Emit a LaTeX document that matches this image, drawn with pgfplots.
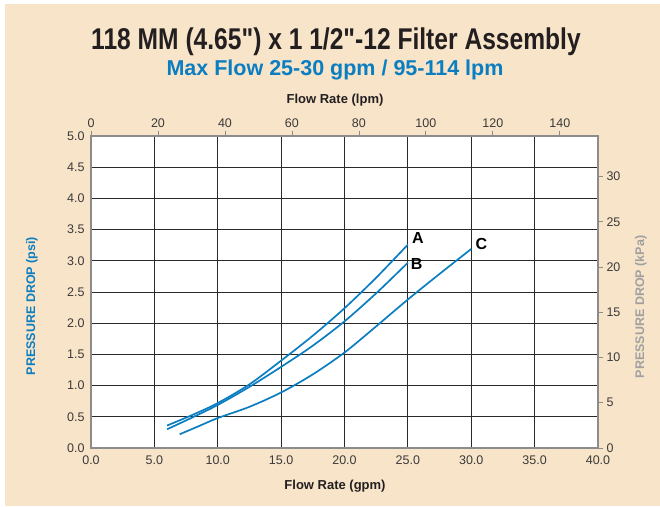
\documentclass[border=0pt]{standalone}
\usepackage{pgfplots}
\pgfplotsset{compat=1.18}
\usepackage{fontspec}
\setmainfont{Liberation Sans}
\newfontfamily\narrowfont{Liberation Sans}[FakeStretch=0.82]
\definecolor{beige}{HTML}{F8E5C9}
\definecolor{flowblue}{HTML}{0B7DC1}
\definecolor{titleblk}{HTML}{231F20}
\definecolor{axisgray}{HTML}{8C8C8C}
\definecolor{gridblk}{HTML}{2A2A2A}
\definecolor{ticktxt}{HTML}{3A3A3A}
\definecolor{kpagray}{HTML}{A0A0A0}

\pgfplotstableread{
gpm psi
6.0  0.36
8.0  0.53
10.0 0.72
12.5 1.02
15.0 1.40
17.5 1.80
20.0 2.24
22.5 2.73
25.0 3.26
}\curveA
\pgfplotstableread{
gpm psi
6.0  0.30
8.0  0.49
10.0 0.69
12.5 0.98
15.0 1.30
17.5 1.64
20.0 2.03
22.5 2.48
25.0 2.97
}\curveB
\pgfplotstableread{
gpm psi
7.0  0.22
8.5  0.35
10.0 0.48
12.5 0.66
15.0 0.89
17.5 1.18
20.0 1.53
22.5 1.95
25.0 2.38
27.5 2.79
30.0 3.19
}\curveC

\begin{document}
\begin{tikzpicture}
  % page background
  \fill[white] (0pt,0pt) rectangle (660pt,506pt);
  \fill[beige] (5pt,0pt) rectangle (660pt,502pt);

  % titles
  \node[text=titleblk] at (336pt,464pt) {\fontsize{30}{34}\selectfont\narrowfont\bfseries 118 MM (4.65") x 1 1/2"-12 Filter Assembly};
  \node[text=flowblue] at (335pt,436pt) {\fontsize{21.5}{24}\selectfont\bfseries Max Flow 25-30 gpm / 95-114 lpm};

  \pgfplotsset{
    every tick label/.append style={text=ticktxt, font=\fontsize{12.5}{14}\selectfont},
    every axis/.append style={axis line style={axisgray, line width=1.6pt}},
  }

  \begin{axis}[
    at={(91pt,58pt)}, anchor=south west,
    scale only axis, width=507pt, height=312pt,
    xmin=0, xmax=40, ymin=0, ymax=5,
    xtick={0,5,...,40}, ytick={0,0.5,...,5},
    xticklabel style={/pgf/number format/.cd, fixed, fixed zerofill, precision=1, assume math mode=true},
    yticklabel style={/pgf/number format/.cd, fixed, fixed zerofill, precision=1, assume math mode=true},
    xtick pos=bottom, ytick pos=left,
    major tick length=0pt,
    xticklabel shift=4pt, yticklabel shift=3pt,
    grid=major,
    major grid style={gridblk, line width=0.9pt},
    axis background/.style={fill=white},
  ]
    \addplot[flowblue, line width=1.7pt, smooth] table[x=gpm, y=psi] {\curveA};
    \addplot[flowblue, line width=1.7pt, smooth] table[x=gpm, y=psi] {\curveB};
    \addplot[flowblue, line width=1.7pt, smooth] table[x=gpm, y=psi] {\curveC};
    \node[font=\fontsize{16}{18}\selectfont\bfseries, text=black] at (axis cs:25.8,3.37) {A};
    \node[font=\fontsize{16}{18}\selectfont\bfseries, text=black] at (axis cs:25.7,2.95) {B};
    \node[font=\fontsize{16}{18}\selectfont\bfseries, text=black] at (axis cs:30.8,3.27) {C};
  \end{axis}

  \begin{axis}[
    at={(91pt,58pt)}, anchor=south west,
    scale only axis, width=507pt, height=312pt,
    xmin=0, xmax=151.4, ymin=0, ymax=34.47,
    axis x line*=top, axis y line*=right,
    xtick={0,20,...,140}, ytick={0,5,...,30},
    xticklabel style={/pgf/number format/assume math mode=true},
    yticklabel style={/pgf/number format/assume math mode=true},
    tick align=outside, major tick length=5pt,
    tick style={axisgray, line width=0.8pt},
    x axis line style={-}, y axis line style={-},
  ]
  \end{axis}

  % axis titles
  \node[font=\fontsize{13}{15}\selectfont\bfseries, text=titleblk] at (335pt,406pt) {Flow Rate (lpm)};
  \node[font=\fontsize{13}{15}\selectfont\bfseries, text=titleblk] at (335pt,20pt) {Flow Rate (gpm)};
  \node[font=\fontsize{12.5}{15}\selectfont\bfseries, text=flowblue, rotate=90] at (32pt,200pt) {PRESSURE DROP (psi)};
  \node[font=\fontsize{12.5}{15}\selectfont\bfseries, text=kpagray, rotate=90] at (641pt,199pt) {PRESSURE DROP (kPa)};
\end{tikzpicture}
\end{document}
